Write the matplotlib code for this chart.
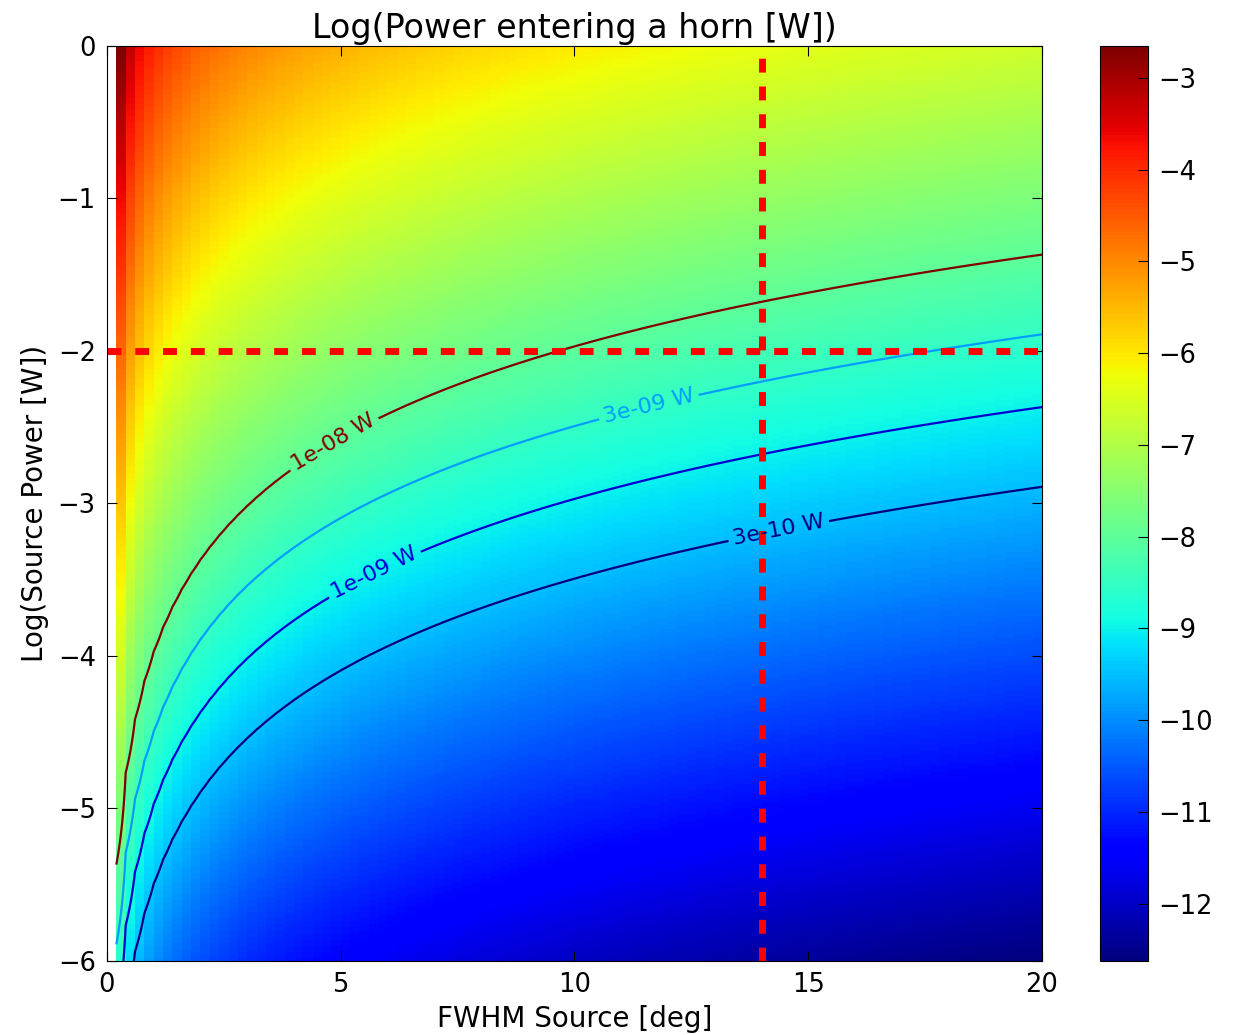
import numpy as np
import matplotlib
matplotlib.use('Agg')
import matplotlib.pyplot as plt

# grille : FWHM de la source [deg] et log10 de la puissance source [W]
fwhm_source = np.arange(0.2, 20.001, 0.2)
log_source_power = np.linspace(-6, 0, 301)

# fraction captee par le cornet : log10(frac) = horn_offset - 2 log10(fwhm)
horn_offset = -4.03

# niveaux des contours [W] et position des etiquettes
contour_levels = [3e-10, 1e-9, 3e-9, 1e-8]
label_positions = [(14.35, -3.15), (5.69, -3.44), (11.57, -2.34), (4.77, -2.56)]

# point de fonctionnement (lignes rouges)
fwhm_mark = 14
log_power_mark = -2

cbar_ticks = [-3, -4, -5, -6, -7, -8, -9, -10, -11, -12]

plt.rcParams['font.family'] = 'DejaVu Sans'
plt.rcParams['font.size'] = 18.5
plt.rcParams['xtick.direction'] = 'in'
plt.rcParams['ytick.direction'] = 'in'
plt.rcParams['xtick.top'] = True
plt.rcParams['ytick.right'] = True
plt.rcParams['xtick.major.size'] = 7
plt.rcParams['ytick.major.size'] = 7
plt.rcParams['xtick.major.pad'] = 8
plt.rcParams['ytick.major.pad'] = 8
plt.rcParams['axes.formatter.use_mathtext'] = False

fig = plt.figure(figsize=(12.38, 10.35), dpi=100)
ax = fig.add_axes([0.0864, 0.0715, 0.7553, 0.8841])
cax = fig.add_axes([0.8885, 0.0715, 0.0385, 0.8841])

X, Y = np.meshgrid(fwhm_source, log_source_power)
log_horn = Y + horn_offset - 2 * np.log10(X)

# comme l'ancien pcolor : valeurs aux coins, derniere ligne/colonne ignoree
mesh = ax.pcolormesh(fwhm_source, log_source_power, log_horn[:-1, :-1],
                     cmap='jet', shading='flat')
cs = ax.contour(X, Y, 10 ** log_horn, levels=contour_levels, cmap='jet',
                linewidths=1.6)
ax.clabel(cs, fmt='%.0e W', fontsize=16, manual=label_positions, inline=True)

ax.axvline(fwhm_mark, color='red', lw=5, dashes=(2, 2))
ax.axhline(log_power_mark, color='red', lw=5, dashes=(2, 2))

ax.set_xlim(0, 20)
ax.set_ylim(-6, 0)
ax.set_xticks([0, 5, 10, 15, 20])
ax.set_yticks([0, -1, -2, -3, -4, -5, -6])
ax.set_xlabel('FWHM Source [deg]', fontsize=20, labelpad=5)
ax.set_ylabel('Log(Source Power [W])', fontsize=20, labelpad=6)
ax.set_title('Log(Power entering a horn [W])', fontsize=24, pad=6)

cb = fig.colorbar(mesh, cax=cax)
cb.set_ticks(cbar_ticks)
cax.tick_params(direction='in', length=7, labelsize=18.5, pad=8)

fig.savefig('out.png', dpi=100, facecolor='white')
